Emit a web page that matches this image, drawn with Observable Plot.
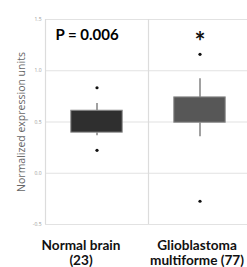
<!DOCTYPE html>
<html>
<head>
<meta charset="utf-8">
<script src="https://cdn.jsdelivr.net/npm/d3@7"></script>
<script src="https://cdn.jsdelivr.net/npm/@observablehq/plot@0.6"></script>
<style>
html,body{margin:0;padding:0;background:#fff;}
#chart{position:relative;width:247px;height:267px;}
</style>
</head>
<body>
<div id="chart"></div>
<script>
const groups = ["Normal brain", "Glioblastoma multiforme"];
const groupLabels = ["Normal brain\n(23)", "Glioblastoma\nmultiforme (77)"];
const q1 = [0.396, 0.493];
const median = [0.513, 0.63];
const q3 = [0.61, 0.74];
const whiskerLow = [0.366, 0.357];
const whiskerHigh = [0.68, 0.922];
const outlierGroup = ["Normal brain", "Normal brain", "Glioblastoma multiforme", "Glioblastoma multiforme"];
const outlierValue = [0.834, 0.224, 1.16, -0.273];
const boxFill = ["#2f2f2f", "#575757"];
const medianColor = ["#1c1c1c", "#333333"];
const yTicks = [-0.5, 0.0, 0.5, 1.0, 1.5];
const annotationGroup = ["Normal brain", "Glioblastoma multiforme"];
const annotationText = ["P = 0.006", "*"];

const boxes = groups.map((g, i) => ({
  g, q1: q1[i], med: median[i], q3: q3[i], lo: whiskerLow[i], hi: whiskerHigh[i],
  fill: boxFill[i], medc: medianColor[i], label: groupLabels[i]
}));
const outliers = outlierGroup.map((g, i) => ({g, v: outlierValue[i]}));

const W = 247, H = 267;
const inset = 25.8;
const chart = Plot.plot({
  width: W, height: H,
  marginLeft: 45, marginRight: -4, marginTop: 19, marginBottom: 43,
  style: {fontFamily: "'Open Sans', sans-serif", background: "#fff", overflow: "visible"},
  x: {domain: groups, padding: 0, axis: null},
  y: {domain: [-0.5, 1.5], axis: null},
  marks: [
    Plot.ruleY(yTicks, {stroke: "#e2e2e2", strokeWidth: 1.2}),
    Plot.ruleX(groups, {x: g => g, dx: -51.5, stroke: "#dcdcdc", strokeWidth: 1.2}),
    Plot.text(yTicks, {frameAnchor: "left", dx: -4, y: d => d, text: d => d.toFixed(1), textAnchor: "end", fontSize: 5, fill: "#999"}),
    Plot.text(["Normalized expression units"], {frameAnchor: "left", dx: -24, rotate: -90, fontSize: 10.5, fill: "#666", textAnchor: "middle"}),
    Plot.ruleX(boxes, {x: "g", y1: "lo", y2: "q1", stroke: "#8a8a8a", strokeWidth: 1.6}),
    Plot.ruleX(boxes, {x: "g", y1: "q3", y2: "hi", stroke: "#8a8a8a", strokeWidth: 1.6}),
    Plot.barY(boxes, {x: "g", y1: "lo", y2: "lo", insetLeft: inset, insetRight: inset, stroke: "#9a9a9a", strokeWidth: 1.5}),
    Plot.barY(boxes, {x: "g", y1: "hi", y2: "hi", insetLeft: inset, insetRight: inset, stroke: "#9a9a9a", strokeWidth: 1.5}),
    Plot.barY(boxes, {x: "g", y1: "q1", y2: "q3", insetLeft: inset, insetRight: inset, fill: "fill", stroke: "#8a8a8a", strokeWidth: 1}),
    Plot.barY(boxes, {x: "g", y1: "med", y2: "med", insetLeft: inset, insetRight: inset, stroke: "medc", strokeWidth: 1.8}),
    Plot.dot(outliers, {x: "g", y: "v", r: 1.6, fill: "#111", stroke: null}),
    Plot.text([0], {x: () => annotationGroup[0], y: () => 1.5, dy: 16, dx: -10, text: () => annotationText[0], fontSize: 15, fontWeight: "bold", fill: "#000", fontFamily: "Lato, sans-serif"}),
    Plot.text([0], {x: () => annotationGroup[1], y: () => 1.5, dy: 23, text: () => annotationText[1], fontSize: 26, fontWeight: "bold", fill: "#111", fontFamily: "Lato, sans-serif"}),
    Plot.text([boxes[0]], {x: "g", frameAnchor: "bottom", dy: 40.5, dx: -16, text: "label", lineHeight: 1.12, fontSize: 13.6, fontWeight: "bold", fill: "#111", fontFamily: "Lato, sans-serif", lineAnchor: "bottom"}),
    Plot.text([boxes[1]], {x: "g", frameAnchor: "bottom", dy: 40.5, dx: -3, text: "label", lineHeight: 1.12, fontSize: 13.6, fontWeight: "bold", fill: "#111", fontFamily: "Lato, sans-serif", lineAnchor: "bottom"})
  ]
});
document.getElementById("chart").appendChild(chart);
</script>
</body>
</html>
